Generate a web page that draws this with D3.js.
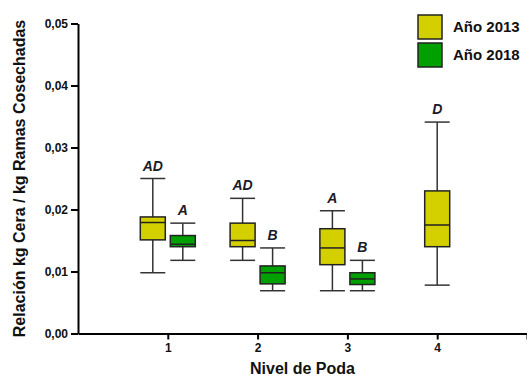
<!DOCTYPE html>
<html>
<head>
<meta charset="utf-8">
<script src="https://cdn.jsdelivr.net/npm/d3@7"></script>
<style>
  body { margin: 0; background: #fff; }
  svg { display: block; font-family: "Liberation Sans", Arial, sans-serif; }
</style>
</head>
<body>
<div id="chart"></div>
<script>
// ------------------------------------------------------------------
//  box plot: Relacion kg cera / kg ramas por nivel de poda
// ------------------------------------------------------------------
const niveles = [1, 2, 3, 4]
const series = ["Año 2013", "Año 2018"]
const yTicks = [0, 0.01, 0.02, 0.03, 0.04, 0.05]

// Año 2013 (niveles 1-4)
const min2013 = [0.0098, 0.0118, 0.0069, 0.0078]
const q1_2013 = [0.0151, 0.0140, 0.0111, 0.0140]
const med2013 = [0.0179, 0.0150, 0.0138, 0.0175]
const q3_2013 = [0.0188, 0.0178, 0.0169, 0.0230]
const max2013 = [0.0250, 0.0218, 0.0198, 0.0341]
const letras2013 = ["AD", "AD", "A", "D"]

// Año 2018 (niveles 1-3)
const min2018 = [0.0118, 0.0069, 0.0069]
const q1_2018 = [0.0140, 0.0080, 0.0079]
const med2018 = [0.0144, 0.0098, 0.0088]
const q3_2018 = [0.0158, 0.0109, 0.0098]
const max2018 = [0.0178, 0.0138, 0.0118]
const letras2018 = ["A", "B", "B"]

const colors = { "Año 2013": "#d4d000", "Año 2018": "#00a000" }

// build box records
const boxes = []
niveles.forEach(function (n, i) {
    const hasBoth = i < min2018.length
    boxes.push({ nivel: n, serie: "Año 2013", solo: !hasBoth, min: min2013[i], q1: q1_2013[i], med: med2013[i], q3: q3_2013[i], max: max2013[i], letra: letras2013[i] })
    if (hasBoth) {
        boxes.push({ nivel: n, serie: "Año 2018", solo: false, min: min2018[i], q1: q1_2018[i], med: med2018[i], q3: q3_2018[i], max: max2018[i], letra: letras2018[i] })
    }
})

const W = 527, H = 378
const boxW = 25

const svg = d3.select("#chart").append("svg")
    .attr("width", W)
    .attr("height", H)

const x = d3.scaleLinear().domain([0, 5]).range([78, 527])
const y = d3.scaleLinear().domain([0, 0.05]).range([333.5, 23.5])
const offset = d3.scalePoint().domain(series).range([-15, 15])

function cx(d) { return x(d.nivel) + (d.solo ? 0 : offset(d.serie)) }

// axes
svg.append("g")
    .attr("transform", "translate(" + x(0) + ",0)")
    .call(d3.axisLeft(y).tickValues(yTicks).tickSize(7).tickSizeOuter(0).tickPadding(3)
        .tickFormat(function (d) { return d3.format(".2f")(d).replace(".", ",") }))

svg.append("g")
    .attr("transform", "translate(0," + y(0) + ")")
    .call(d3.axisBottom(x).tickValues([1, 2, 3, 4, 5]).tickSize(6).tickSizeOuter(0).tickPadding(4)
        .tickFormat(function (d) { return d < 5 ? d : "" }))

svg.selectAll(".domain").attr("stroke", "#000").attr("stroke-width", 2)
svg.selectAll(".tick line").attr("stroke", "#000").attr("stroke-width", 2)
svg.selectAll(".tick text")
    .attr("fill", "#111")
    .style("font-size", "12px")
    .style("font-weight", "bold")

// whiskers
const g = svg.append("g")
g.selectAll(".whisker")
    .data(boxes)
    .enter().append("line")
    .attr("x1", cx).attr("x2", cx)
    .attr("y1", function (d) { return y(d.min) })
    .attr("y2", function (d) { return y(d.max) })
    .attr("stroke", "#333").attr("stroke-width", 1.5)

g.selectAll(".capTop")
    .data(boxes)
    .enter().append("line")
    .attr("x1", function (d) { return cx(d) - boxW / 2 })
    .attr("x2", function (d) { return cx(d) + boxW / 2 })
    .attr("y1", function (d) { return y(d.max) })
    .attr("y2", function (d) { return y(d.max) })
    .attr("stroke", "#333").attr("stroke-width", 1.5)

g.selectAll(".capLow")
    .data(boxes)
    .enter().append("line")
    .attr("x1", function (d) { return cx(d) - boxW / 2 })
    .attr("x2", function (d) { return cx(d) + boxW / 2 })
    .attr("y1", function (d) { return y(d.min) })
    .attr("y2", function (d) { return y(d.min) })
    .attr("stroke", "#333").attr("stroke-width", 1.5)

// boxes
g.selectAll(".box")
    .data(boxes)
    .enter().append("rect")
    .attr("x", function (d) { return cx(d) - boxW / 2 })
    .attr("y", function (d) { return y(d.q3) })
    .attr("width", boxW)
    .attr("height", function (d) { return y(d.q1) - y(d.q3) })
    .attr("fill", function (d) { return colors[d.serie] })
    .attr("stroke", "#222").attr("stroke-width", 1.5)

g.selectAll(".median")
    .data(boxes)
    .enter().append("line")
    .attr("x1", function (d) { return cx(d) - boxW / 2 })
    .attr("x2", function (d) { return cx(d) + boxW / 2 })
    .attr("y1", function (d) { return y(d.med) })
    .attr("y2", function (d) { return y(d.med) })
    .attr("stroke", "#222").attr("stroke-width", 1.5)

// letters
g.selectAll(".letra")
    .data(boxes)
    .enter().append("text")
    .attr("x", cx)
    .attr("y", function (d) { return y(d.max) - 8 })
    .attr("text-anchor", "middle")
    .style("font-size", "14px")
    .style("font-weight", "bold")
    .style("font-style", "italic")
    .attr("fill", "#1a1a2a")
    .text(function (d) { return d.letra })

// axis titles
svg.append("text")
    .attr("transform", "translate(25," + ((y(0) + y(0.05)) / 2) + ") rotate(-90)")
    .attr("text-anchor", "middle")
    .style("font-size", "16px")
    .style("font-weight", "bold")
    .attr("fill", "#111")
    .text("Relación kg Cera / kg Ramas Cosechadas")

svg.append("text")
    .attr("x", (x(0) + x(5)) / 2)
    .attr("y", 374)
    .attr("text-anchor", "middle")
    .style("font-size", "16px")
    .style("font-weight", "bold")
    .attr("fill", "#111")
    .text("Nivel de Poda")

// legend
const legend = svg.append("g")
    .selectAll("g")
    .data(series)
    .enter().append("g")
    .attr("transform", function (d, i) { return "translate(418," + (15 + i * 28) + ")" })

legend.append("rect")
    .attr("width", 24).attr("height", 24)
    .attr("fill", function (d) { return colors[d] })
    .attr("stroke", "#222").attr("stroke-width", 1.5)

legend.append("text")
    .attr("x", 35).attr("y", 17)
    .style("font-size", "15px")
    .style("font-weight", "bold")
    .attr("fill", "#111")
    .text(function (d) { return d })
</script>
</body>
</html>
